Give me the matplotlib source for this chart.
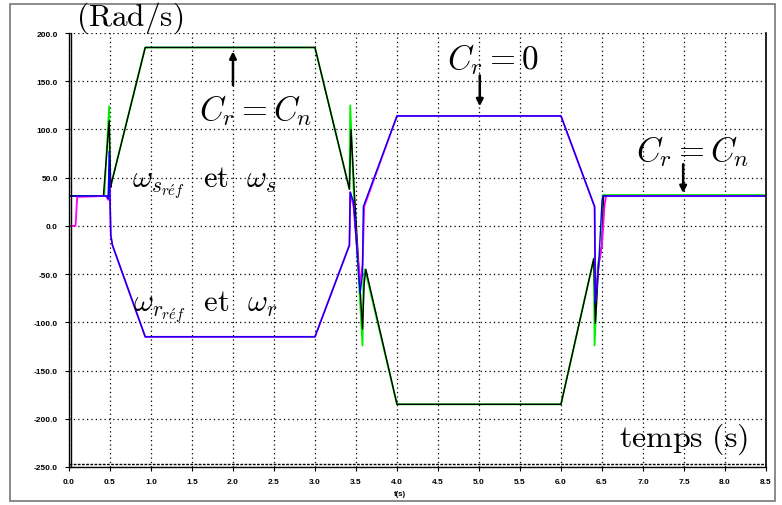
import matplotlib
matplotlib.use("Agg")
import matplotlib.pyplot as plt
from matplotlib.patches import Rectangle
from matplotlib.lines import Line2D

plt.rcParams['mathtext.fontset'] = 'cm'
plt.rcParams['axes.unicode_minus'] = False

# stator speed reference (green) and measured (black)
ws_ref_t = [0.0, 0.43, 0.49, 0.50, 0.52, 0.93, 3.0, 3.42, 3.43, 3.47, 3.58, 3.59, 3.61, 4.0,
            6.0, 6.40, 6.41, 6.45, 6.50, 6.51, 8.5]
ws_ref = [31, 31, 124, 40, 45, 185, 185, 38, 125, 40, -124, -60, -45, -185,
          -185, -34, -124, -40, -20, 32, 32]
ws_t = [0.0, 0.42, 0.49, 0.51, 0.52, 0.93, 3.0, 3.42, 3.44, 3.48, 3.58, 3.60, 3.62, 4.0,
        6.0, 6.40, 6.42, 6.46, 6.50, 6.52, 8.5]
ws = [31, 31, 109, 40, 45, 185, 185, 38, 100, 35, -107, -60, -45, -185,
      -185, -34, -101, -40, -20, 31, 31]

# rotor speed reference (magenta) and measured (blue)
wr_ref_t = [0.0, 0.08, 0.10, 0.45, 0.48, 0.49, 0.51, 0.53, 0.93, 3.0, 3.42, 3.43, 3.47,
            3.55, 3.58, 3.60, 4.0, 6.0, 6.41, 6.42, 6.46, 6.50, 6.53, 6.55, 8.5]
wr_ref = [0, 0, 30, 31, 27, 59, -10, -20, -115, -115, -20, 35, 20,
          -60, -40, 20, 114, 114, 20, -78, -40, -20, 20, 31, 31]
wr_t = [0.0, 0.10, 0.45, 0.47, 0.48, 0.49, 0.51, 0.53, 0.93, 3.0, 3.42, 3.43, 3.47,
        3.55, 3.58, 3.59, 4.0, 6.0, 6.41, 6.42, 6.46, 6.50, 6.51, 6.52, 8.5]
wr = [31, 31, 31, 31, 28, 77, -10, -20, -115, -115, -20, 35, 25,
      -70, -50, 20, 114, 114, 20, -80, -40, 25, 31, 31, 31]

x_ticks = [0.0, 0.5, 1.0, 1.5, 2.0, 2.5, 3.0, 3.5, 4.0, 4.5, 5.0, 5.5, 6.0, 6.5, 7.0, 7.5, 8.0, 8.5]
y_ticks = [-250, -200, -150, -100, -50, 0, 50, 100, 150, 200]

fig = plt.figure(figsize=(7.82, 5.06), dpi=100)
ax = fig.add_axes([0.0882, 0.0751, 0.8913, 0.8577])

# outer frame
fig.patches.append(Rectangle((0.013, 0.008), 0.978, 0.982, transform=fig.transFigure,
                             fill=False, edgecolor='#777777', linewidth=1.2))

ax.plot(ws_ref_t, ws_ref, color='#00ee00', lw=1.3)
ax.plot(ws_t, ws, color='black', lw=1.0)
ax.plot(wr_ref_t, wr_ref, color='#ff00ff', lw=1.3)
ax.plot(wr_t, wr, color='#0000ee', lw=1.0)

ax.set_xlim(0, 8.5)
ax.set_ylim(-250, 200)
ax.set_xticks(x_ticks)
ax.set_yticks(y_ticks)
ax.set_xticklabels([f'{v:.1f}' for v in x_ticks])
ax.set_yticklabels([f'{v:.1f}' for v in y_ticks])
for lab in ax.get_xticklabels() + ax.get_yticklabels():
    lab.set_fontfamily('Liberation Sans')
    lab.set_fontweight('bold')
    lab.set_fontsize(6)
ax.tick_params(direction='out', length=3, width=0.8, pad=5)
ax.grid(True, color='black', linestyle=(0, (1, 2.5)), linewidth=0.9)

ax.spines['top'].set_visible(False)
ax.spines['right'].set_linewidth(1.2)
ax.spines['left'].set_linewidth(1.0)
ax.spines['bottom'].set_linewidth(1.0)
# doubled left and bottom borders
ax.add_line(Line2D([0.003, 0.003], [0, 1], transform=ax.transAxes, color='black', lw=1.0, clip_on=False))
ax.add_line(Line2D([0, 1], [0.006, 0.006], transform=ax.transAxes, color='black', lw=1.0,
                   linestyle=(0, (2, 1)), clip_on=False))

ax.text(0.475, -0.062, 't(s)', transform=ax.transAxes, ha='center', va='center',
        fontfamily='Liberation Sans', fontweight='bold', fontsize=5.5)

fig.text(0.166, 0.963, r'$\mathrm{(Rad/s)}$', ha='center', va='center', fontsize=22.5)
ax.text(7.49, -220, r'$\mathrm{temps\ (s)}$', ha='center', va='center', fontsize=23)

ax.text(1.65, 45, r'$\omega_{s_{r\acute{e}f}}\ \ \mathrm{et}\ \ \omega_s$', ha='center', va='center', fontsize=22)
ax.text(1.66, -83, r'$\omega_{r_{r\acute{e}f}}\ \ \mathrm{et}\ \ \omega_r$', ha='center', va='center', fontsize=22)

arrow = dict(arrowstyle='-|>', lw=1.8, color='black', mutation_scale=10, shrinkA=0, shrinkB=0)
ax.text(2.28, 121, r'$C_r = C_n$', ha='center', va='center', fontsize=24)
ax.annotate('', xy=(2.0, 181), xytext=(2.0, 146), arrowprops=arrow)
ax.text(5.17, 173, r'$C_r = 0$', ha='center', va='center', fontsize=24)
ax.annotate('', xy=(5.01, 124), xytext=(5.01, 156), arrowprops=arrow)
ax.text(7.6, 78, r'$C_r = C_n$', ha='center', va='center', fontsize=24)
ax.annotate('', xy=(7.49, 34), xytext=(7.49, 64), arrowprops=arrow)

fig.savefig('out.png', dpi=100)
